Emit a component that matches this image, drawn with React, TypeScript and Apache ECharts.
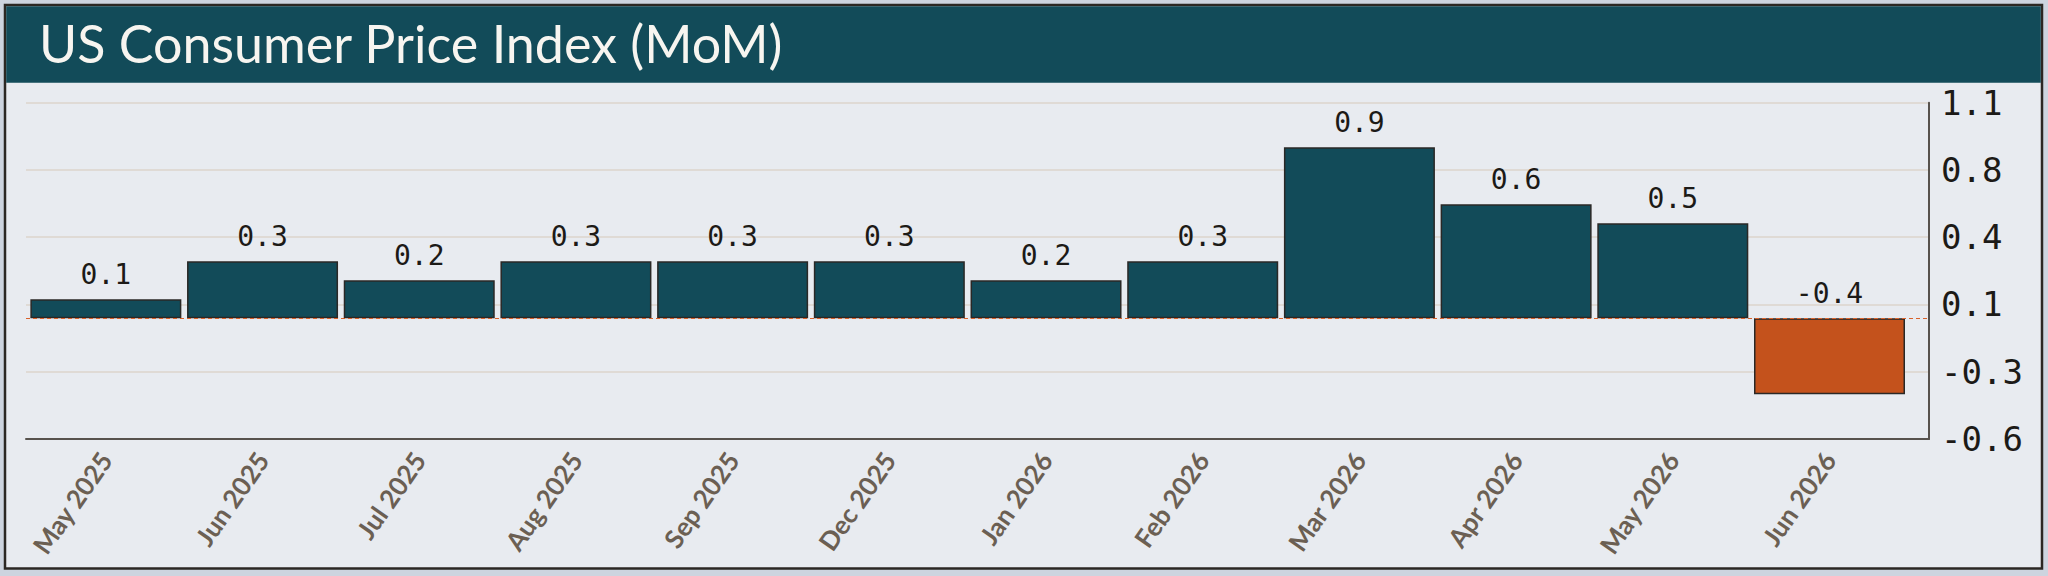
import React, { useEffect, useRef } from "react";
import * as echarts from "echarts";

const categories = [
  "May 2025", "Jun 2025", "Jul 2025", "Aug 2025", "Sep 2025", "Dec 2025",
  "Jan 2026", "Feb 2026", "Mar 2026", "Apr 2026", "May 2026", "Jun 2026",
];
const values = [0.1, 0.3, 0.2, 0.3, 0.3, 0.3, 0.2, 0.3, 0.9, 0.6, 0.5, -0.4];

const yMin = -0.635;
const yMax = 1.135;
const yTickValues = [-0.635, -0.281, 0.073, 0.427, 0.781, 1.135];
const yTickLabels = ["-0.6", "-0.3", "0.1", "0.4", "0.8", "1.1"];

const TITLE = "US Consumer Price Index (MoM)";

const TEAL = "#124b59";
const ORANGE = "#c4521c";

export default function App() {
  const ref = useRef<HTMLDivElement>(null);

  useEffect(() => {
    document.body.style.margin = "0";
    if (!ref.current) return;
    const chart = echarts.init(ref.current, null, { renderer: "svg" });

    const yLabel = (v: number) => {
      let best = 0;
      for (let i = 1; i < yTickValues.length; i++) {
        if (Math.abs(yTickValues[i] - v) < Math.abs(yTickValues[best] - v)) best = i;
      }
      return yTickLabels[best];
    };

    const option: any = {
      animation: false,
      backgroundColor: "#cdd4df",
      graphic: [
        {
          type: "rect",
          z: -10,
          silent: true,
          shape: { x: 5, y: 5, width: 2037, height: 563.5 },
          style: { fill: "#e8ebf0", stroke: "#2b2723", lineWidth: 2.5 },
        },
        {
          type: "rect",
          z: -9,
          silent: true,
          shape: { x: 6.2, y: 6.2, width: 2034.6, height: 76.5 },
          style: { fill: TEAL },
        },
        {
          type: "text",
          z: 10,
          silent: true,
          x: 39,
          y: 43,
          style: {
            text: TITLE,
            fill: "#f7f5f0",
            font: "52px Lato",
            letterSpacing: 0.6,
            textVerticalAlign: "middle",
            verticalAlign: "middle",
          },
        },
      ],
      grid: [
        { left: 26, right: 119, top: 102.7, bottom: 137, containLabel: false, outerBoundsMode: "none" },
        { left: 27.5, right: 140.15, top: 102.7, bottom: 137, containLabel: false, outerBoundsMode: "none" },
      ],
      xAxis: [
        {
          type: "category",
          gridIndex: 0,
          data: categories,
          axisLine: { show: true, onZero: false, lineStyle: { color: "#57524d", width: 2 } },
          axisTick: { show: false },
          axisLabel: { show: false },
          splitLine: { show: false },
        },
        {
          type: "category",
          gridIndex: 1,
          data: categories,
          axisLine: { show: false, onZero: false },
          axisTick: { show: false },
          splitLine: { show: false },
          axisLabel: {
            interval: 0,
            rotate: 55,
            margin: 16,
            fontFamily: "Lato",
            fontWeight: "bold",
            fontSize: 26,
            color: "#6b5f53",
          },
        },
      ],
      yAxis: [
        {
          type: "value",
          gridIndex: 0,
          position: "right",
          min: yMin,
          max: yMax,
          axisLine: { show: true, lineStyle: { color: "#57524d", width: 2 } },
          axisTick: { show: false, customValues: yTickValues },
          axisLabel: {
            customValues: yTickValues,
            formatter: (v: number) => yLabel(v),
            margin: 12,
            fontFamily: "DejaVu Sans Mono",
            fontSize: 34,
            color: "#1c1a17",
          },
          splitLine: { show: true, lineStyle: { color: "#dcd5cd", width: 1.5 } },
        },
        {
          type: "value",
          gridIndex: 1,
          min: yMin,
          max: yMax,
          show: false,
          splitLine: { show: false },
        },
      ],
      series: [
        {
          type: "line",
          xAxisIndex: 0,
          yAxisIndex: 0,
          data: [],
          silent: true,
          markLine: {
            silent: true,
            symbol: "none",
            label: { show: false },
            lineStyle: { color: "#d9622b", type: [4, 3], width: 1.2 },
            data: [{ yAxis: 0 }],
          },
        },
        {
          type: "bar",
          xAxisIndex: 1,
          yAxisIndex: 1,
          data: values,
          barWidth: 151,
          itemStyle: {
            color: (p: any) => (p.value < 0 ? ORANGE : TEAL),
            borderColor: "#2a2826",
            borderWidth: 1.5,
          },
          label: {
            show: true,
            position: "top",
            distance: 11,
            fontFamily: "DejaVu Sans Mono",
            fontSize: 28,
            color: "#1c1a17",
            formatter: (p: any) => Number(p.value).toFixed(1),
          },
        },
      ],
    };

    chart.setOption(option);
    return () => chart.dispose();
  }, []);

  return <div ref={ref} style={{ width: 2048, height: 576 }} />;
}
